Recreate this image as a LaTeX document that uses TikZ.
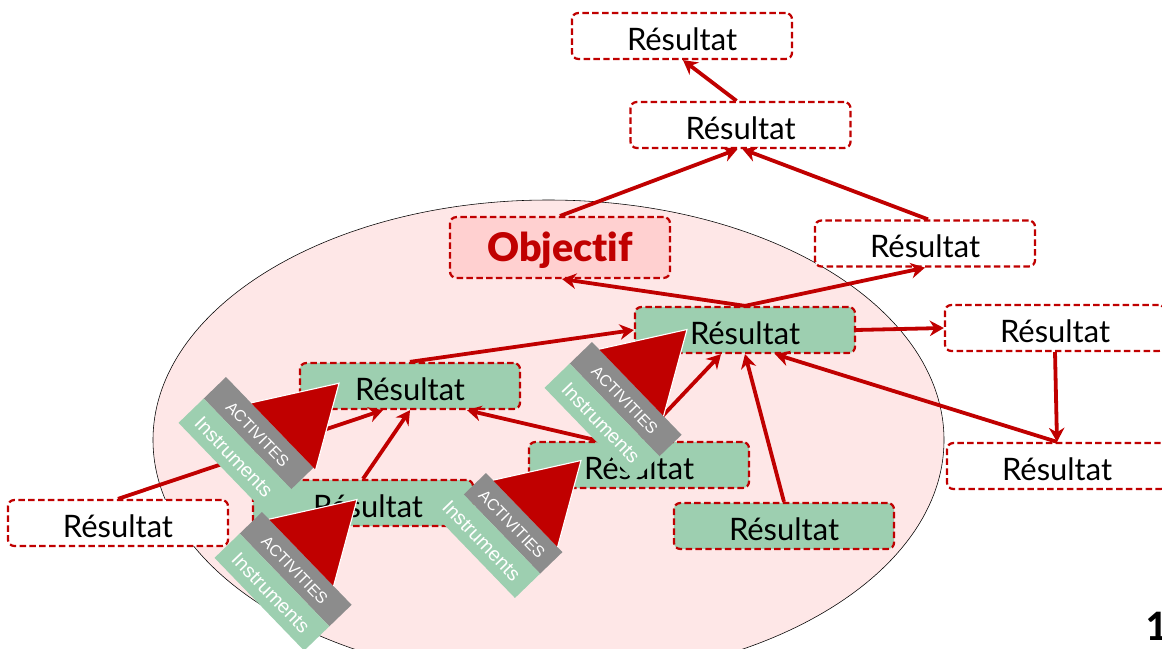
\documentclass[tikz,border=0pt]{standalone}
\usepackage{fontspec}
\setmainfont{Lato}
\setsansfont{Liberation Sans}
\newfontfamily\numfont{Carlito}
\newfontfamily\heavyfont[Ligatures=NoCommon]{Lato Black}
\usetikzlibrary{arrows.meta,calc}
\definecolor{darkred}{HTML}{C00000}
\definecolor{palegreen}{HTML}{9DCFB0}
\definecolor{palepink}{HTML}{FEE7E7}
\definecolor{pinkfill}{HTML}{FFD0D0}
\definecolor{bargray}{HTML}{8C8C8C}
\tikzset{
	resbox/.style={draw=darkred,line width=1.6pt,dash pattern=on 4.6pt off 2.4pt,rounded corners=4.5pt,fill=white,minimum width=5.5cm,minimum height=1.15cm,inner sep=0pt,text height=20pt,text depth=0pt,font=\fontsize{22}{24}\selectfont},
	resgreen/.style={resbox,fill=palegreen},
	flow/.style={draw=darkred,line width=2.7pt,-{Stealth[length=10pt,width=11pt]}},
	bartext/.style={text=white,font=\sffamily,inner sep=0pt,transform shape},
	pics/instr/.style n args={4}{code={
		\fill [bargray] (0,0) rectangle (#1,31);
		\fill [palegreen] (#2,31) rectangle (#1,66);
		\draw [white,fill=darkred,line width=0.8pt] (10+#4,0) -- (57+#4,-77) -- (103+#4,0);
		\node [bartext,font=\sffamily\fontsize{11.4}{13}\selectfont] (act) at ($(0,17)+(#1/2,0)$) {#3};
		\node [bartext,font=\sffamily\fontsize{14}{16}\selectfont] (ins) at ($(#2/2,50)+(#1/2,0)$) {Instruments};
	}}
}
\begin{document}
\begin{tikzpicture}[x=0.025cm,y=-0.025cm]
	\useasboundingbox (0,0) rectangle (1162,649);
	\clip (0,0) rectangle (1162,649);
	\draw [black,line width=0.4pt,fill=palepink] (548.5,440) ellipse [x radius=395.5,y radius=240];
	\node [resbox] (top) at (682,36) {Résultat};
	\node [resbox] (second) at (740.5,125) {Résultat};
	\node [resbox,fill=pinkfill,minimum height=1.52cm,text=darkred,text height=20.6pt,font=\heavyfont\fontsize{28}{30}\selectfont] (objectif) at (560,247.5) {Objectif};
	\node [resbox] (rright) at (925,243.5) {Résultat};
	\node [resgreen] (main) at (745,330) {Résultat};
	\node [resbox] (rightup) at (1055,328) {Résultat};
	\node [resbox] (rightdown) at (1057,466) {Résultat};
	\node [resgreen] (midleft) at (410,386) {Résultat};
	\node [resgreen] (center) at (639,465) {Résultat};
	\node [resgreen] (lowright) at (784,526) {Résultat};
	\node [resgreen] (lowleft) at (363,503) {\hspace{0.25cm}Résultat};
	\node [resbox] (farleft) at (118,523) {Résultat};
	\draw [flow] ($(second.north)+(-4,0)$) -- ($(top.south)+(1,0)$);
	\draw [flow] (objectif.north) -- ($(second.south)+(-3,0)$);
	\draw [flow] ($(rright.north)+(3,0)$) -- ($(second.south)+(2,0)$);
	\draw [flow] (main.north) -- ($(objectif.south)+(2,0)$);
	\draw [flow] (main.north) -- (rright.south);
	\draw [flow] (main.east) -- (rightup.west);
	\draw [flow] (rightup.south) -- (rightdown.north);
	\draw [flow] (rightdown.north) -- ($(main.south)+(30,0)$);
	\draw [flow] (lowright.north) -- (main.south);
	\draw [flow] (center.north) -- ($(main.south)+(-24,0)$);
	\draw [flow] ($(center.north)+(-40,0)$) -- ($(midleft.south)+(57,0)$);
	\draw [flow] (midleft.north) -- (main.west);
	\draw [flow] (farleft.north) -- ($(midleft.south)+(-27,0)$);
	\draw [flow] (lowleft.north) -- (midleft.south);
	\pic [rotate=-46] (groupa) at (226,377) {instr={126}{0}{ACTIVITES}{26}};
	\pic [rotate=-46] (groupb) at (592,342) {instr={129}{0}{ACTIVITIES}{0}};
	\pic [rotate=-46] (groupc) at (486,473) {instr={110}{-19}{ACTIVITIES}{0}};
	\pic [rotate=-46] (groupd) at (262,512) {instr={129}{0}{ACTIVITIES}{0}};
	\node [font=\numfont\bfseries\fontsize{31}{34}\selectfont,inner sep=0pt] (pagenum) at (1157,626) {1};
\end{tikzpicture}
\end{document}
